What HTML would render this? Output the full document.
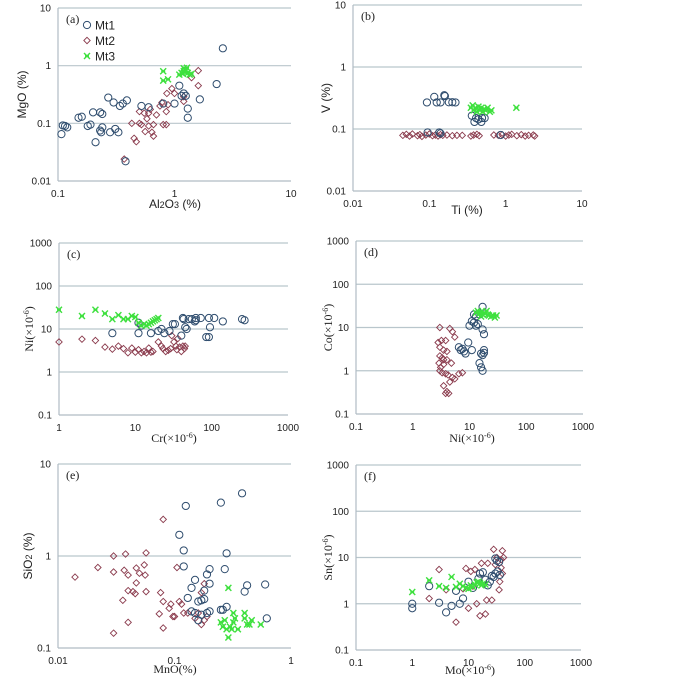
<!DOCTYPE html>
<html><head><meta charset="utf-8">
<style>
html,body{margin:0;padding:0;background:#fff;}
svg{display:block;}
.t{font-family:"Liberation Sans",sans-serif;font-size:10px;fill:#222;}
.ts{font-family:"Liberation Serif",serif;font-size:12px;fill:#222;}
.ta{font-family:"Liberation Sans",sans-serif;font-size:12px;fill:#222;}
</style></head>
<body>
<svg id="chart" width="700" height="681" viewBox="0 0 700 681"></svg>
<script>
// ---- data ----
const aMt1=[[0.107,0.065],[0.11,0.092],[0.115,0.09],[0.12,0.085],[0.15,0.125],[0.16,0.13],[0.18,0.09],[0.19,0.095],[0.2,0.155],[0.23,0.155],[0.24,0.145],[0.21,0.047],[0.23,0.075],[0.235,0.07],[0.24,0.085],[0.27,0.28],[0.28,0.07],[0.3,0.23],[0.31,0.08],[0.33,0.07],[0.34,0.2],[0.36,0.22],[0.39,0.25],[0.38,0.022],[0.52,0.2],[0.6,0.19],[0.8,0.22],[1.0,0.22],[1.1,0.45],[1.15,0.3],[1.2,0.33],[1.25,0.3],[1.3,0.18],[1.3,0.125],[1.65,0.26],[2.3,0.48],[2.6,2.0]];
const aMt2=[[0.37,0.024],[0.43,0.1],[0.45,0.055],[0.47,0.048],[0.5,0.1],[0.5,0.16],[0.52,0.095],[0.55,0.15],[0.56,0.072],[0.58,0.12],[0.6,0.09],[0.6,0.15],[0.62,0.175],[0.64,0.07],[0.66,0.095],[0.66,0.06],[0.7,0.14],[0.75,0.2],[0.78,0.23],[0.8,0.095],[0.85,0.095],[0.85,0.16],[0.86,0.33],[0.88,0.21],[0.95,0.4],[1.0,0.33],[1.2,0.24],[1.2,0.29],[1.4,0.62],[1.6,0.45],[1.6,0.82]];
const aMt3=[[0.8,0.8],[0.8,0.55],[0.88,0.58],[1.1,0.7],[1.15,0.75],[1.2,0.8],[1.2,0.9],[1.25,0.85],[1.3,0.75],[1.35,0.7],[1.18,0.72],[1.22,0.78],[1.28,0.92],[1.4,0.72]];

const bMt1=[[0.093,0.268],[0.116,0.33],[0.125,0.268],[0.14,0.268],[0.157,0.35],[0.16,0.34],[0.18,0.27],[0.2,0.27],[0.22,0.268],[0.36,0.164],[0.39,0.13],[0.41,0.15],[0.44,0.143],[0.48,0.13],[0.49,0.15],[0.53,0.15],[0.095,0.088],[0.135,0.088],[0.14,0.085],[0.86,0.08]];
const bMt2=[[0.045,0.079],[0.05,0.082],[0.055,0.077],[0.06,0.083],[0.07,0.078],[0.075,0.081],[0.08,0.076],[0.09,0.08],[0.1,0.083],[0.11,0.078],[0.12,0.08],[0.13,0.077],[0.14,0.081],[0.15,0.079],[0.17,0.08],[0.2,0.078],[0.23,0.079],[0.27,0.079],[0.35,0.077],[0.38,0.08],[0.42,0.082],[0.45,0.078],[0.7,0.08],[0.8,0.079],[0.9,0.081],[1.0,0.077],[1.1,0.08],[1.2,0.082],[1.4,0.078],[1.6,0.081],[1.8,0.077],[2.0,0.079],[2.3,0.08],[2.4,0.077]];
const bMt3=[[0.35,0.22],[0.37,0.24],[0.38,0.2],[0.4,0.22],[0.42,0.19],[0.44,0.23],[0.46,0.2],[0.48,0.22],[0.5,0.19],[0.52,0.21],[0.55,0.2],[0.58,0.22],[0.62,0.19],[0.65,0.2],[1.38,0.22]];

const cMt1=[[5,8],[11,8],[11,14],[12,12],[16,8],[20,9],[22,10],[24,8],[28,9],[31,13],[33,13],[40,7],[42,18],[43,17],[45,11],[47,10],[50,17],[55,17],[60,15],[62,16],[62,18],[72,18],[85,6.5],[92,6.5],[92,18],[95,11],[108,18],[140,15],[250,17],[270,16]];
const cMt2=[[1,5],[2,5.8],[3,5.4],[4,3.8],[5,3.4],[6,4],[7,3.5],[8,2.8],[9,3.6],[10,2.9],[11,3.3],[12,2.8],[13,3],[14,2.8],[15,3.6],[16,2.9],[17,3],[20,5],[22,4],[23,3.5],[25,3],[27,3.2],[29,3.5],[30,7],[32,5],[34,4],[36,6],[38,3.8],[40,3],[42,4],[44,3.5],[45,4],[35,3.3]];
const cMt3=[[1,28],[2,20],[3,28],[4,23],[5,17],[6,21],[7,17],[8,17],[9,20],[10,19],[11,14],[12,12],[13,13],[14,12],[15,13],[16,14],[17,15],[18,16],[19,17],[20,18]];

const dMt1=[[17,30],[12,20],[13,18],[15,20],[11,14],[12,13],[13,11],[14,12],[10,11],[17,9],[18,7],[6.5,3.5],[7,3],[7.5,3.2],[8,2.8],[8.5,2.5],[9.5,4.5],[11,3],[16,2.5],[17,2.3],[18,2.6],[18,3],[15,1.5],[16,1.2],[17,1]];
const dMt2=[[3,10],[4.5,9.5],[5,8],[5.5,6],[3.2,5],[3.8,5],[2.8,4.5],[3,3.5],[3.5,3],[4,2.8],[3,2.2],[3.3,2],[3.5,1.8],[2.9,1.5],[3.1,1.2],[3.5,1.4],[4,1.8],[4.8,1.5],[3,1],[3.3,0.9],[3.8,0.85],[4.2,0.8],[5,0.7],[5.5,0.65],[4.5,0.55],[6.5,0.85],[7.5,0.9],[3.5,0.45],[4,0.33],[4.3,0.3],[3.8,0.3]];
const dMt3=[[13,22],[14,24],[15,21],[16,23],[17,20],[18,22],[19,21],[20,24],[21,20],[22,19],[24,18],[26,19],[28,17],[30,19],[16,18]];

const eMt1=[[0.38,4.8],[0.25,3.8],[0.125,3.5],[0.11,1.7],[0.12,1.15],[0.12,0.77],[0.28,1.07],[0.27,0.72],[0.2,0.72],[0.19,0.63],[0.15,0.55],[0.14,0.45],[0.13,0.35],[0.18,0.42],[0.2,0.5],[0.42,0.48],[0.4,0.41],[0.6,0.49],[0.17,0.33],[0.16,0.32],[0.18,0.34],[0.28,0.28],[0.25,0.26],[0.26,0.26],[0.14,0.25],[0.15,0.24],[0.17,0.23],[0.19,0.24],[0.2,0.25],[0.62,0.21],[0.16,0.2]];
const eMt2=[[0.014,0.59],[0.022,0.75],[0.03,1.0],[0.038,1.05],[0.057,1.08],[0.03,0.67],[0.037,0.7],[0.04,0.62],[0.047,0.74],[0.05,0.65],[0.055,0.8],[0.056,0.62],[0.047,0.51],[0.04,0.42],[0.044,0.41],[0.046,0.39],[0.057,0.41],[0.036,0.33],[0.04,0.19],[0.03,0.145],[0.08,2.5],[0.076,0.4],[0.08,0.32],[0.09,0.27],[0.093,0.3],[0.074,0.235],[0.097,0.22],[0.1,0.22],[0.08,0.165],[0.105,0.75],[0.11,0.32],[0.115,0.3],[0.12,0.24],[0.13,0.24],[0.15,0.21],[0.16,0.24],[0.17,0.18],[0.18,0.2],[0.18,0.5],[0.17,0.4],[0.19,0.22]];
const eMt3=[[0.29,0.45],[0.25,0.19],[0.26,0.17],[0.27,0.2],[0.28,0.16],[0.3,0.17],[0.31,0.16],[0.32,0.24],[0.33,0.21],[0.35,0.16],[0.4,0.24],[0.4,0.21],[0.42,0.18],[0.46,0.2],[0.44,0.18],[0.55,0.18],[0.29,0.13],[0.32,0.19]];

const fMt1=[[1,0.8],[1,1],[2,2.4],[3,1.05],[4,0.65],[5,0.9],[6,1.9],[7,1.0],[8,1.3],[10,3],[12,2.2],[15,3.5],[16,4.5],[18,4.8],[20,3.3],[22,2.5],[24,3],[26,4],[28,3.8],[30,4.5],[30,9.5],[32,8.5],[33,5],[35,8],[36,4.2]];
const fMt2=[[2,1.3],[3,5.5],[4,2],[6,0.4],[8,2.1],[9,5.8],[10,0.8],[11,5],[12,2.4],[13,5.5],[14,1.0],[16,0.55],[17,7.5],[20,0.6],[21,1.2],[22,7.5],[26,1.2],[28,15],[30,7],[32,10],[35,2],[36,3],[38,9],[40,14],[42,10],[38,6],[40,4.5]];
const fMt3=[[1,1.8],[2,3.2],[3,2.4],[4,2.2],[5,3.8],[6,2.3],[7,2.7],[8,2.4],[9,2.2],[10,2.1],[11,2.5],[12,2.3],[13,2.6],[14,2.9],[15,3],[16,2.8],[17,2.5],[18,2.7],[20,2.6]];

const aXTicks=["0.1","1","10"], aYTicks=["0.01","0.1","1","10"];
const bXTicks=["0.01","0.1","1","10"], bYTicks=["0.01","0.1","1","10"];
const cXTicks=["1","10","100","1000"], cYTicks=["0.1","1","10","100","1000"];
const dXTicks=["0.1","1","10","100","1000"], dYTicks=["0.1","1","10","100","1000"];
const eXTicks=["0.01","0.1","1"], eYTicks=["0.1","1","10"];
const fXTicks=["0.1","1","10","100","1000"], fYTicks=["0.1","1","10","100","1000"];

const NS="http://www.w3.org/2000/svg";
const svg=document.getElementById('chart');
function mk(tag,attrs,parent){const e=document.createElementNS(NS,tag);for(const k in attrs)e.setAttribute(k,attrs[k]);(parent||svg).appendChild(e);return e;}

const panels=[
 {id:'a',x0:58,x1:291,y0:181,y1:8,xt:aXTicks,yt:aYTicks,s:[aMt1,aMt2,aMt3],xl:'Al<tspan font-size="9" dy="0">2</tspan>O<tspan font-size="9">3</tspan> (%)',yl:'MgO (%)',serif:false,legend:true,lx:175,ly:208,yx:26},
 {id:'b',x0:353,x1:582,y0:191,y1:5,xt:bXTicks,yt:bYTicks,s:[bMt1,bMt2,bMt3],xl:'Ti (%)',yl:'V (%)',serif:false,lx:467,ly:214,yx:330},
 {id:'c',x0:59,x1:288,y0:415,y1:243,xt:cXTicks,yt:cYTicks,s:[cMt1,cMt2,cMt3],xl:'Cr(×10<tspan font-size="8" dy="-4">-6</tspan><tspan dy="4">)</tspan>',yl:'Ni(×10<tspan font-size="8" dy="-4">-6</tspan><tspan dy="4">)</tspan>',serif:true,lx:174,ly:442,yx:33},
 {id:'d',x0:356,x1:583,y0:414,y1:241,xt:dXTicks,yt:dYTicks,s:[dMt1,dMt2,dMt3],xl:'Ni(×10<tspan font-size="8" dy="-4">-6</tspan><tspan dy="4">)</tspan>',yl:'Co(×10<tspan font-size="8" dy="-4">-6</tspan><tspan dy="4">)</tspan>',serif:true,lx:472,ly:442,yx:332},
 {id:'e',x0:58,x1:291,y0:648,y1:464,xt:eXTicks,yt:eYTicks,s:[eMt1,eMt2,eMt3],xl:'MnO(%)',yl:'SiO<tspan font-size="9">2</tspan> (%)',serif:false,xserif:true,lx:175,ly:673,yx:32},
 {id:'f',x0:356,x1:581,y0:650,y1:465,xt:fXTicks,yt:fYTicks,s:[fMt1,fMt2,fMt3],xl:'Mo(×10<tspan font-size="8" dy="-4">-6</tspan><tspan dy="4">)</tspan>',yl:'Sn(×10<tspan font-size="8" dy="-4">-6</tspan><tspan dy="4">)</tspan>',serif:true,lx:470,ly:674,yx:332}
];
const seriesNames=['mt1','mt2','mt3'];

function drawMarker(g,k,px,py){
  let m;
  if(k===0){m=mk('circle',{cx:px,cy:py,r:3.6,fill:'none',stroke:'#2f4d6e','stroke-width':1},g);}
  else if(k===1){m=mk('path',{d:`M${px} ${py-3.2}L${px+3.2} ${py}L${px} ${py+3.2}L${px-3.2} ${py}Z`,fill:'none',stroke:'#8a3a4c','stroke-width':0.9},g);}
  else {m=mk('path',{d:`M${px-3} ${py-3}L${px+3} ${py+3}M${px+3} ${py-3}L${px-3} ${py+3}M${px-2} ${py}L${px+2} ${py}`,fill:'none',stroke:'#3ee03e','stroke-width':1.4},g);}
  return m;
}

panels.forEach(p=>{
  const g=mk('g',{});
  
  
  const lxMin=Math.log10(parseFloat(p.xt[0])), lxMax=Math.log10(parseFloat(p.xt[p.xt.length-1]));
  const lyMin=Math.log10(parseFloat(p.yt[0])), lyMax=Math.log10(parseFloat(p.yt[p.yt.length-1]));
  const sx=v=>p.x0+(Math.log10(v)-lxMin)/(lxMax-lxMin)*(p.x1-p.x0);
  const sy=v=>p.y0+(Math.log10(v)-lyMin)/(lyMax-lyMin)*(p.y1-p.y0);
  p.yt.forEach((t,i)=>{
    const y=sy(parseFloat(t));
    if(i>0){const l=mk('line',{x1:p.x0,x2:p.x1,y1:y,y2:y,stroke:'#b9c6cc','stroke-width':1.2},g);
      
      }
    const tx=mk('text',{x:p.x0-7,y:y+3.5,'text-anchor':'end',class:'t'},g);tx.textContent=t;
    
    
  });
  p.xt.forEach(t=>{
    const x=sx(parseFloat(t));
    const tx=mk('text',{x:x,y:p.y0+16,'text-anchor':'middle',class:'t'},g);tx.textContent=t;
    
    
  });
  const ax=mk('line',{x1:p.x0,x2:p.x0,y1:p.y1,y2:p.y0,stroke:'#b0bcc4','stroke-width':1.2},g);
  
  
  const bx=mk('line',{x1:p.x0,x2:p.x1,y1:p.y0,y2:p.y0,stroke:'#b0bcc4','stroke-width':1.2},g);
  
  
  const pl=mk('text',{x:p.x0+8,y:p.y1+15,class:'ts'},g);pl.textContent='('+p.id+')';
  
  
  const xt=mk('text',{x:p.lx,y:p.ly,'text-anchor':'middle',class:(p.serif||p.xserif)?'ts':'ta'},g);xt.innerHTML=p.xl;
  
  
  const cy=(p.y0+p.y1)/2;
  const yt=mk('text',{x:p.yx,y:cy,'text-anchor':'middle',class:p.serif?'ts':'ta',transform:`rotate(-90 ${p.yx} ${cy})`},g);yt.innerHTML=p.yl;
  
  
  [1,0,2].forEach(k=>{
    const sg=mk('g',{},g);
    
    
    p.s[k].forEach(d=>{
      const m=drawMarker(sg,k,sx(d[0]),sy(d[1]));
      
      
    });
  });
  if(p.legend){
    const lg=mk('g',{},g);
    
    
    ['Mt1','Mt2','Mt3'].forEach((n,k)=>{
      const yy=25+k*15.5;
      const m=drawMarker(lg,k,87,yy);
      
      
      const t=mk('text',{x:95,y:yy+4.5,class:'ta'},lg);t.textContent=n;
      
      
    });
  }
});
</script>
</body></html>
